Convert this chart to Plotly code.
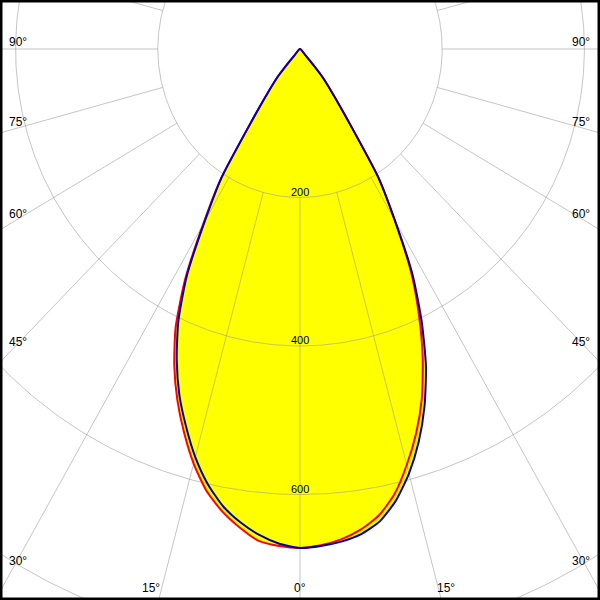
import numpy as np
import plotly.graph_objects as go

# Angles from nadir (degrees)
gamma = [0, 2.5, 5, 7.5, 10, 12.5, 15, 17.5, 20, 22.5, 25, 27.5, 30, 32.5, 35,
         37.5, 40, 42.5, 45]

# Luminous intensity (cd) - red plane (C0/C180); zero beyond 45 deg
red_left = [672, 670, 665, 650, 632, 609, 578, 542, 504, 462, 414, 350, 272, 207, 118,
            75, 48, 12, 0]
red_right = [672, 669, 663, 653, 638, 614, 580, 543, 501, 451, 396, 338, 266, 205, 118,
             75, 48, 12, 0]
# blue plane (C90/C270)
blue_left = [672, 667, 657, 643, 625, 600, 569, 533, 496, 453, 405, 345, 268, 205, 118,
             75, 48, 12, 0]
blue_right = [672, 670, 666, 659, 646, 623, 592, 555, 512, 463, 405, 343, 268, 205, 118,
              75, 48, 12, 0]

ring_values = [200, 400, 600, 800]
ring_labels = ["200", "400", "600"]
spoke_angles = list(range(-180, 180, 15))
angle_labels_side = ["90°", "75°", "60°", "45°", "30°"]
angle_labels_bottom = ["15°", "0°", "15°"]

# pixel mapping (original chart has slightly different x/y scales)
sx, sy, cx, cy = 0.711, 0.7425, 300.0, 49.0
W = H = 600


def plane_xy(left, right):
    g = np.radians(np.array(gamma, dtype=float))
    l = np.array(left, dtype=float)
    r = np.array(right, dtype=float)
    ang = np.concatenate([-g[::-1], g[1:]])
    rad = np.concatenate([l[::-1], r[1:]])
    return rad * np.sin(ang), -rad * np.cos(ang)


fig = go.Figure()

rx, ry = plane_xy(red_left, red_right)
bx, by = plane_xy(blue_left, blue_right)
SM = 0.6

for xx, yy in [(rx, ry), (bx, by)]:
    fig.add_trace(go.Scatter(x=xx, y=yy, mode="lines", fill="toself",
                             fillcolor="#ffff00",
                             line=dict(width=0, shape="spline", smoothing=SM),
                             hoverinfo="skip"))

grid_color = "rgba(150,150,150,0.55)"
t = np.radians(np.linspace(0, 360, 721))
for R in ring_values:
    fig.add_trace(go.Scatter(x=R * np.sin(t), y=-R * np.cos(t), mode="lines",
                             line=dict(color=grid_color, width=1), hoverinfo="skip"))
for a in spoke_angles:
    ar = np.radians(a)
    fig.add_trace(go.Scatter(x=[200 * np.sin(ar), 1400 * np.sin(ar)],
                             y=[-200 * np.cos(ar), -1400 * np.cos(ar)],
                             mode="lines", line=dict(color=grid_color, width=1),
                             hoverinfo="skip"))

fig.add_trace(go.Scatter(x=rx, y=ry, mode="lines",
                         line=dict(color="#ff0000", width=2, shape="spline", smoothing=SM),
                         hoverinfo="skip"))
fig.add_trace(go.Scatter(x=bx, y=by, mode="lines",
                         line=dict(color="#0000b4", width=2, shape="spline", smoothing=SM),
                         hoverinfo="skip"))

font_ring = dict(family="Liberation Sans, Arial, sans-serif", size=11, color="black")
font_ang = dict(family="Liberation Sans, Arial, sans-serif", size=12, color="black")
ann = []
for lbl, R in zip(ring_labels, ring_values):
    ann.append(dict(x=0, y=-R, xref="x", yref="y", text=lbl, showarrow=False,
                    yanchor="middle", yshift=6, font=font_ring))
side_y = [42, 122, 214, 342, 561]
for lbl, py in zip(angle_labels_side, side_y):
    for px in (18, 581):
        ann.append(dict(x=px / W, y=1 - py / H, xref="paper", yref="paper", text=lbl,
                        showarrow=False, xanchor="center", yanchor="middle", font=font_ang))
for lbl, px in zip(angle_labels_bottom, [151, 300, 446]):
    ann.append(dict(x=px / W, y=1 - 588 / H, xref="paper", yref="paper", text=lbl,
                    showarrow=False, xanchor="center", yanchor="middle", font=font_ang))

fig.update_layout(
    width=W, height=H, margin=dict(l=0, r=0, t=0, b=0),
    paper_bgcolor="white", plot_bgcolor="white", showlegend=False,
    xaxis=dict(range=[-cx / sx, (W - cx) / sx], visible=False, fixedrange=True),
    yaxis=dict(range=[-(H - cy) / sy, cy / sy], visible=False, fixedrange=True),
    annotations=ann,
    shapes=[dict(type="rect", xref="paper", yref="paper", x0=0, x1=1, y0=0, y1=1,
                 line=dict(color="black", width=5))],
)

fig.write_html("out.html", config={"displayModeBar": False},
               post_script="document.body.style.margin='0';document.body.style.overflow='hidden';")
